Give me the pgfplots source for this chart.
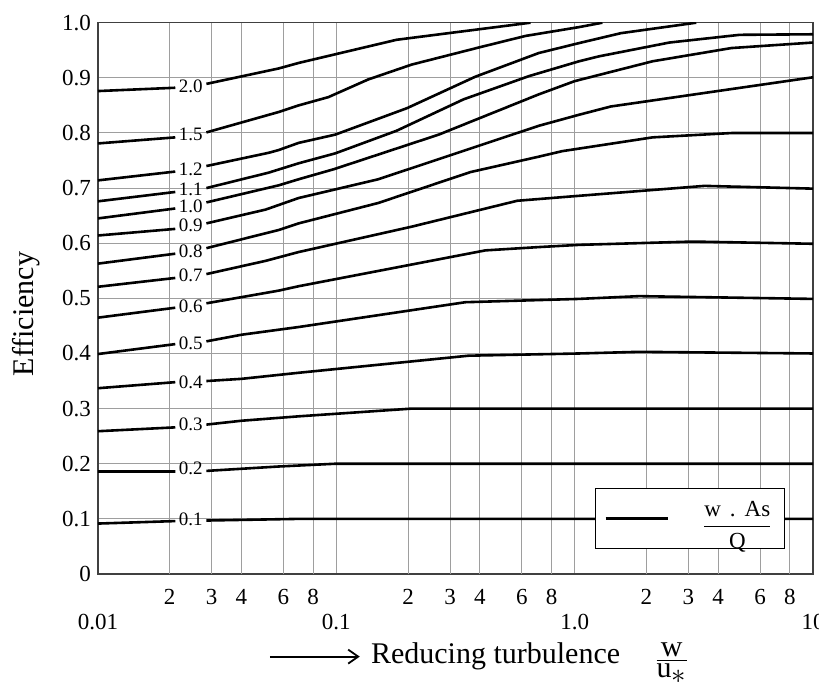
\documentclass[border=0pt]{standalone}
\usepackage{pgfplots}
\pgfplotsset{compat=1.18}
\usepackage{fontspec}
\setmainfont{Liberation Serif}
\usetikzlibrary{arrows.meta}

\begin{document}
\begin{tikzpicture}
\path[use as bounding box] (-49pt,-53.5pt) rectangle (360.5pt,287pt);
\begin{axis}[
  at={(0,0)}, anchor=south west,
  scale only axis, width=357.5pt, height=275.65pt,
  xmode=log, log basis x=10,
  xmin=0.01, xmax=10, ymin=0, ymax=1,
  xtick={0.01,0.1,1,10}, xticklabels={0.01,0.1,1.0,10},
  extra x ticks={0.02,0.03,0.04,0.06,0.08,0.2,0.3,0.4,0.6,0.8,2,3,4,6,8},
  extra x tick labels={2,3,4,6,8,2,3,4,6,8,2,3,4,6,8},
  extra x tick style={xticklabel style={yshift=12.5pt}},
  xticklabel style={yshift=-16.8pt},
  ytick={0,0.1,0.2,0.3,0.4,0.5,0.6,0.7,0.8,0.9,1.0},
  yticklabels={0,0.1,0.2,0.3,0.4,0.5,0.6,0.7,0.8,0.9,1.0},
  tick label style={font=\fontsize{11.5}{13}\selectfont},
  major tick length=0pt, minor tick length=0pt,
  xminorgrids=true, xmajorgrids=true, ymajorgrids=true,
  major grid style={black!38, line width=0.5pt},
  minor grid style={black!38, line width=0.5pt},
  axis line style={black!75, line width=0.7pt},
  unbounded coords=jump,
  ylabel={Efficiency},
  ylabel style={at={(axis description cs:-0.100,0.4716)}, anchor=center, font=\fontsize{15}{17}\selectfont},
  xlabel={\tikz[baseline={(0,-3.2pt)}]\draw[line width=0.9pt,-{Straight Barb[length=5pt,width=7pt]}] (0,0)--(45pt,0);\hspace{5pt}Reducing turbulence\hspace{17pt}\raisebox{-2.5pt}{$\frac{\mbox{w}}{\mbox{u}_{\textstyle\ast}}$}},
  xlabel style={at={(axis description cs:0.533,0)}, anchor=base, yshift=-44.5pt, font=\fontsize{15}{17}\selectfont},
  curve/.style={black, line width=1.3pt, mark=none, forget plot},
  legend image code/.code={\draw[#1] (0pt,0pt) -- (31pt,0pt);},
  legend style={at={(axis description cs:0.828,0.101)}, anchor=center, draw=black, fill=white,
    line width=0.6pt, inner xsep=4.5pt, inner ysep=5pt, nodes={inner sep=1.5pt},
    font=\fontsize{11.5}{13}\selectfont,
    /tikz/every odd column/.append style={column sep=15pt}},
]
\addplot[curve] coordinates {(0.01,0.876)(0.0211,0.882)(0.0245,nan)(0.0285,0.889)(0.0573,0.917)(0.0695,0.927)(0.179,0.969)(0.653,1.0)};
\addplot[curve] coordinates {(0.01,0.781)(0.0211,0.792)(0.0245,nan)(0.0285,0.801)(0.0573,0.838)(0.0695,0.850)(0.0926,0.865)(0.136,0.897)(0.207,0.924)(0.396,0.955)(0.622,0.976)(1.043,0.992)(1.307,1.0)};
\addplot[curve] coordinates {(0.01,0.714)(0.0211,0.730)(0.0245,nan)(0.0285,0.740)(0.052,0.764)(0.0573,0.769)(0.0695,0.782)(0.099,0.797)(0.198,0.845)(0.383,0.902)(0.707,0.945)(1.043,0.963)(1.563,0.981)(3.236,1.0)};
\addplot[curve] coordinates {(0.01,0.676)(0.0211,0.693)(0.0245,nan)(0.0285,0.700)(0.052,0.728)(0.0695,0.745)(0.099,0.763)(0.179,0.804)(0.342,0.861)(0.642,0.903)(1.043,0.930)(1.266,0.939)(2.497,0.964)(4.925,0.978)(10,0.979)};
\addplot[curve] coordinates {(0.01,0.645)(0.0211,0.663)(0.0245,nan)(0.0285,0.674)(0.0573,0.705)(0.0695,0.716)(0.0972,0.734)(0.269,0.797)(0.707,0.870)(1.0,0.894)(2.123,0.930)(4.545,0.954)(10,0.964)};
\addplot[curve] coordinates {(0.01,0.614)(0.0211,0.626)(0.0245,nan)(0.0285,0.636)(0.0505,0.661)(0.0695,0.682)(0.150,0.716)(0.707,0.813)(1.043,0.833)(1.418,0.848)(10,0.901)};
\addplot[curve] coordinates {(0.01,0.563)(0.0211,0.581)(0.0245,nan)(0.0285,0.591)(0.0573,0.624)(0.0695,0.636)(0.150,0.673)(0.365,0.729)(0.707,0.757)(0.887,0.767)(2.123,0.792)(4.616,0.800)(10,0.800)};
\addplot[curve] coordinates {(0.01,0.521)(0.0211,0.537)(0.0245,nan)(0.0285,0.544)(0.0505,0.568)(0.0695,0.584)(0.207,0.630)(0.574,0.677)(1.043,0.686)(3.507,0.704)(10,0.699)};
\addplot[curve] coordinates {(0.01,0.465)(0.0211,0.483)(0.0245,nan)(0.0285,0.491)(0.0573,0.514)(0.0695,0.522)(0.422,0.587)(0.707,0.593)(1.043,0.597)(3.131,0.603)(10,0.599)};
\addplot[curve] coordinates {(0.01,0.399)(0.0211,0.417)(0.0245,nan)(0.0285,0.422)(0.04,0.434)(0.0695,0.448)(0.348,0.493)(1.043,0.499)(1.866,0.504)(10,0.499)};
\addplot[curve] coordinates {(0.01,0.337)(0.0211,0.348)(0.0245,nan)(0.0285,0.350)(0.04,0.354)(0.0695,0.365)(0.359,0.396)(1.043,0.400)(1.866,0.403)(10,0.400)};
\addplot[curve] coordinates {(0.01,0.259)(0.0211,0.266)(0.0245,nan)(0.0285,0.271)(0.04,0.278)(0.0695,0.286)(0.207,0.300)(10,0.300)};
\addplot[curve] coordinates {(0.01,0.186)(0.0211,0.186)(0.0245,nan)(0.0285,0.187)(0.0573,0.195)(0.099,0.200)(10,0.200)};
\addplot[curve] coordinates {(0.01,0.0915)(0.0211,0.096)(0.0245,nan)(0.0285,0.097)(0.0695,0.100)(10,0.100)};
\addlegendimage{black, line width=1.3pt}
\addlegendentry{$\displaystyle\frac{\mbox{w\hspace{4.5pt}.\hspace{4.5pt}As}}{\mbox{Q}}$}
\begin{scope}[every node/.style={font=\fontsize{9.5}{10}\selectfont, inner sep=0.5pt}]
\node at (axis cs:0.0245,0.885) {2.0};
\node at (axis cs:0.0245,0.797) {1.5};
\node at (axis cs:0.0245,0.734) {1.2};
\node at (axis cs:0.0245,0.697) {1.1};
\node at (axis cs:0.0245,0.667) {1.0};
\node at (axis cs:0.0245,0.632) {0.9};
\node at (axis cs:0.0245,0.585) {0.8};
\node at (axis cs:0.0245,0.541) {0.7};
\node at (axis cs:0.0245,0.485) {0.6};
\node at (axis cs:0.0245,0.418) {0.5};
\node at (axis cs:0.0245,0.348) {0.4};
\node at (axis cs:0.0245,0.271) {0.3};
\node at (axis cs:0.0245,0.191) {0.2};
\node at (axis cs:0.0245,0.100) {0.1};
\end{scope}
\end{axis}
\end{tikzpicture}
\end{document}
